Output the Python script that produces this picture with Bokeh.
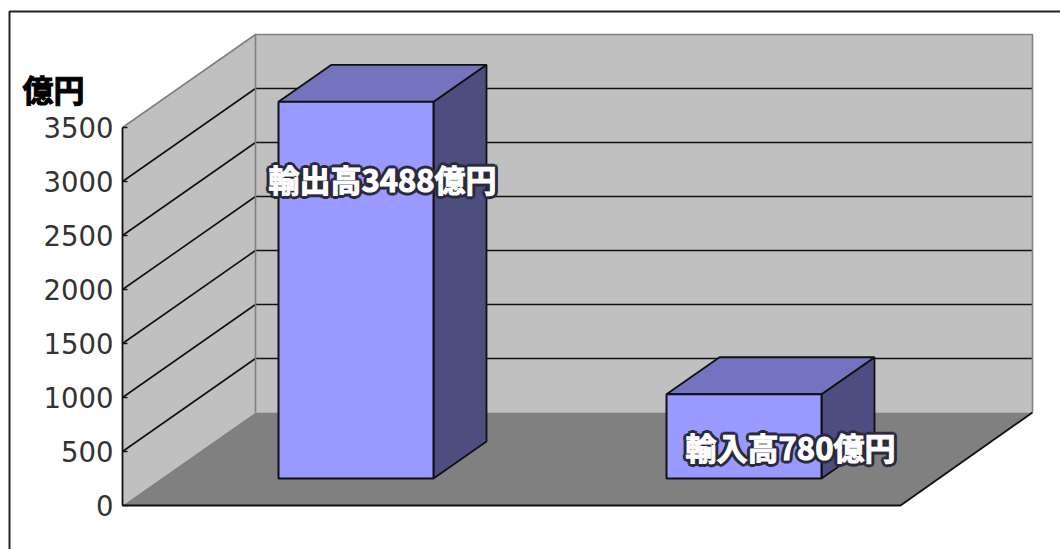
from bokeh.core.properties import value
from bokeh.embed import file_html
from bokeh.models import FixedTicker, LinearAxis, Range1d
from bokeh.plotting import figure
from bokeh.resources import INLINE

# Trade totals, in 億円
categories = ["輸出高", "輸入高"]
amounts = [3488, 780]
unit = "億円"
tick_values = [0, 500, 1000, 1500, 2000, 2500, 3000, 3500]

# Pseudo-3D projection: value units per screen pixel and the receding offsets
PX_PER_UNIT = 0.108
WALL_DX, WALL_DY = 133, 93 / PX_PER_UNIT
BAR_DX, BAR_DY = 53, 37 / PX_PER_UNIT
BASE_DY = 27 / PX_PER_UNIT
AXIS_X = 122
FLOOR_W = 778
BAR_W = 155
BAR_LEFT = [278, 666]
LABEL_CENTER = [382, 790]


def px(n):
    """Length on screen, in pixels, expressed in value units."""
    return n / PX_PER_UNIT


WALL = "#C0C0C0"
FLOOR = "#808080"
EDGE = "#808080"
FRONT = "#9999FF"
TOP = "#7373BF"
SIDE = "#4D4D80"
INK = "#111111"
HALO = "#2A2A3A"

TOP_VALUE = tick_values[-1]
p = figure(
    width=1060, height=549, output_backend="svg", toolbar_location=None,
    x_range=Range1d(0, 1060), y_range=Range1d(-px(44), px(505)),
    x_axis_location=None, y_axis_location=None, min_border=0,
    background_fill_color="white", border_fill_color="white",
    outline_line_color=None,
)
p.grid.visible = False

# Frame around the chart, open past the page's right and bottom edges
p.line([9, 9, 1060], [-px(44), px(494), px(494)], line_color="#222222", line_width=2)

# Side wall, back wall and floor
bx = AXIS_X + WALL_DX
rx = bx + FLOOR_W - 1
p.patch([AXIS_X, bx, bx, AXIS_X],
        [0, WALL_DY, TOP_VALUE + WALL_DY, TOP_VALUE], fill_color=WALL, line_color=None)
p.patch([bx, rx, rx, bx],
        [WALL_DY, WALL_DY, TOP_VALUE + WALL_DY, TOP_VALUE + WALL_DY], fill_color=WALL, line_color=None)
p.patch([AXIS_X, AXIS_X + FLOOR_W, rx, bx],
        [0, 0, WALL_DY, WALL_DY], fill_color=FLOOR, line_color=None)

# Value gridlines run up the side wall and across the back wall
inner = tick_values[1:-1]
p.multi_line([[AXIS_X, bx, rx] for _ in inner], [[v, v + WALL_DY, v + WALL_DY] for v in inner],
             line_color=INK, line_width=1.6)

# Wall edges
p.line([AXIS_X, bx, rx, rx], [TOP_VALUE, TOP_VALUE + WALL_DY, TOP_VALUE + WALL_DY, WALL_DY],
       line_color=EDGE, line_width=1.6)
p.line([bx, bx], [WALL_DY, TOP_VALUE + WALL_DY], line_color=EDGE, line_width=1.6)

# Front and right edges of the floor
p.line([AXIS_X, AXIS_X + FLOOR_W, rx], [0, 0, WALL_DY], line_color=INK, line_width=1.8)

# Bars as three visible faces
for left, amount in zip(BAR_LEFT, amounts):
    l, r = left, left + BAR_W
    y0, y1 = BASE_DY, BASE_DY + amount
    p.patch([r, r + BAR_DX, r + BAR_DX, r], [y0, y0 + BAR_DY, y1 + BAR_DY, y1],
            fill_color=SIDE, line_color=INK, line_width=1.8)
    p.patch([l, r, r + BAR_DX, l + BAR_DX], [y1, y1, y1 + BAR_DY, y1 + BAR_DY],
            fill_color=TOP, line_color=INK, line_width=1.8)
    p.patch([l, r, r, l], [y0, y0, y1, y1], fill_color=FRONT, line_color=INK, line_width=2)

# Bar captions stating each amount: a dark halo under heavy white lettering
label_y = [BASE_DY + amounts[0] - px(77), BASE_DY + amounts[1] - px(52)]
captions = [f"{c}{a}{unit}" for c, a in zip(categories, amounts)]
caption_style = dict(text_font=value("Noto Sans CJK JP"), text_font_style="bold", text_font_size="31px",
                     text_align="center", text_baseline="middle")
for dx, dy in [(-3, 0), (3, 0), (0, -3), (0, 3), (-2.2, -2.2), (2.2, -2.2), (-2.2, 2.2), (2.2, 2.2)]:
    p.text(LABEL_CENTER, label_y, captions, x_offset=dx, y_offset=dy, text_color=HALO,
           text_outline_color=HALO, **caption_style)
p.text(LABEL_CENTER, label_y, captions, text_color="white", text_outline_color="white", **caption_style)

# Unit heading above the axis
p.text([53], [px(505 - 88)], [unit], text_font=value("Noto Sans CJK JP"), text_font_style="bold",
       text_font_size="31px", text_color="black", text_outline_color="black",
       text_align="center", text_baseline="middle")

# Value axis
ax = LinearAxis(fixed_location=AXIS_X, bounds=(0, TOP_VALUE), ticker=FixedTicker(ticks=tick_values))
ax.major_tick_in, ax.major_tick_out = 5, 0
ax.minor_tick_line_color = None
ax.axis_line_color = INK
ax.axis_line_width = 1.8
ax.major_tick_line_color = INK
ax.major_tick_line_width = 1.6
ax.major_label_standoff = 9
ax.major_label_text_font = "DejaVu Sans"
ax.major_label_text_font_size = "27.5px"
ax.major_label_text_color = "#333333"
p.add_layout(ax, "left")

open("out.html", "w").write(file_html(p, INLINE))
